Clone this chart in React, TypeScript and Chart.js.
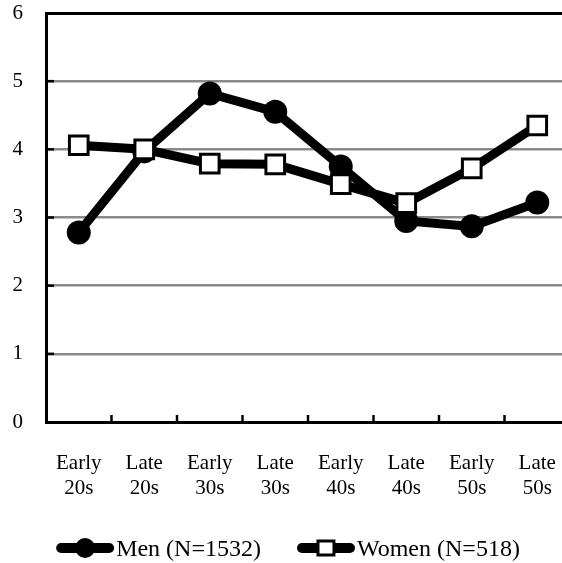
import React, { useEffect, useRef } from "react";
import { Chart, registerables } from "chart.js";

Chart.register(...registerables);

const categories: string[][] = [
  ["Early", "20s"],
  ["Late", "20s"],
  ["Early", "30s"],
  ["Late", "30s"],
  ["Early", "40s"],
  ["Late", "40s"],
  ["Early", "50s"],
  ["Late", "50s"],
];
const menValues = [2.78, 3.97, 4.82, 4.55, 3.75, 2.95, 2.87, 3.22];
const womenValues = [4.06, 4.0, 3.79, 3.78, 3.49, 3.21, 3.72, 4.35];
const seriesLabels = ["Men (N=1532)", "Women (N=518)"];
const yMin = 0;
const yMax = 6;
const yStep = 1;

const FONT = '"Liberation Serif", "Times New Roman", serif';

const innerTicksPlugin = {
  id: "innerTicks",
  beforeDatasetsDraw(chart: any) {
    const { ctx, chartArea, scales } = chart;
    const x = scales.x;
    const y = scales.y;
    ctx.save();
    ctx.strokeStyle = "#000";
    ctx.lineWidth = 2.5;
    for (let i = 1; i < categories.length; i++) {
      const px = (x.getPixelForValue(i - 1) + x.getPixelForValue(i)) / 2;
      ctx.beginPath();
      ctx.moveTo(px, chartArea.bottom);
      ctx.lineTo(px, chartArea.bottom - 7);
      ctx.stroke();
    }
    for (let v = yMin + yStep; v < yMax; v += yStep) {
      const py = y.getPixelForValue(v);
      ctx.beginPath();
      ctx.moveTo(chartArea.left, py);
      ctx.lineTo(chartArea.left + 8, py);
      ctx.stroke();
    }
    ctx.restore();
  },
};

const legendPlugin = {
  id: "customLegend",
  afterDraw(chart: any) {
    const ctx = chart.ctx;
    ctx.save();
    ctx.font = `24px ${FONT}`;
    const iconW = 58;
    const gapText = 2;
    const gapItems = 36;
    const widths = seriesLabels.map((t) => ctx.measureText(t).width);
    const total = iconW * 2 + gapText * 2 + gapItems + widths[0] + widths[1];
    let x = (chart.width - total) / 2 + 3;
    const y = 548;
    seriesLabels.forEach((label, i) => {
      ctx.strokeStyle = "#000";
      ctx.lineWidth = 10;
      ctx.lineCap = "round";
      ctx.beginPath();
      ctx.moveTo(x + 5, y);
      ctx.lineTo(x + iconW - 5, y);
      ctx.stroke();
      const cx = x + iconW / 2;
      if (i === 0) {
        ctx.fillStyle = "#000";
        ctx.beginPath();
        ctx.arc(cx, y, 10, 0, Math.PI * 2);
        ctx.fill();
      } else {
        ctx.fillStyle = "#fff";
        ctx.lineWidth = 3;
        ctx.lineCap = "butt";
        ctx.fillRect(cx - 8, y - 7, 16, 14);
        ctx.strokeRect(cx - 8, y - 7, 16, 14);
      }
      ctx.fillStyle = "#000";
      ctx.textAlign = "left";
      ctx.textBaseline = "alphabetic";
      ctx.fillText(label, x + iconW + gapText, 556);
      x += iconW + gapText + widths[i] + gapItems;
    });
    ctx.restore();
  },
};

function zeroPadding(s: any) {
  s.paddingLeft = 0;
  s.paddingRight = 0;
  s.paddingTop = 0;
  s.paddingBottom = 0;
}

export default function App() {
  const ref = useRef<HTMLCanvasElement | null>(null);

  useEffect(() => {
    if (!ref.current) return;
    const chart = new Chart(ref.current, {
      type: "line",
      data: {
        labels: categories as any,
        datasets: [
          {
            label: seriesLabels[0],
            data: menValues,
            borderColor: "#000",
            borderWidth: 9,
            pointStyle: "circle",
            pointRadius: 12,
            pointBackgroundColor: "#000",
            pointBorderColor: "#000",
            pointBorderWidth: 0,
            tension: 0,
            order: 1,
          },
          {
            label: seriesLabels[1],
            data: womenValues,
            borderColor: "#000",
            borderWidth: 9,
            pointStyle: "rect",
            pointRadius: 13.2,
            pointBackgroundColor: "#fff",
            pointBorderColor: "#000",
            pointBorderWidth: 3,
            tension: 0,
            order: 0,
          },
        ],
      },
      options: {
        animation: false,
        responsive: false,
        devicePixelRatio: 1,
        layout: { autoPadding: false, padding: { top: 13, left: 0, right: 0, bottom: 0 } },
        plugins: {
          legend: { display: false },
          tooltip: { enabled: false },
        },
        scales: {
          x: {
            type: "category",
            offset: true,
            grid: { display: false },
            border: { color: "#000", width: 3 },
            ticks: {
              color: "#000",
              font: { family: FONT, size: 21, lineHeight: 1.2 },
              padding: 21,
              maxRotation: 0,
              autoSkip: false,
            },
            afterFit(s: any) {
              s.height = 141;
              zeroPadding(s);
            },
          },
          y: {
            min: yMin,
            max: yMax,
            ticks: {
              stepSize: yStep,
              color: "#000",
              font: { family: FONT, size: 21 },
              padding: 23,
            },
            grid: {
              drawTicks: false,
              color: (c: any) => (c.tick && c.tick.value === yMax ? "#000" : "#8a8a8a"),
              lineWidth: (c: any) => (c.tick && c.tick.value === yMax ? 3 : 2.6),
            },
            border: { color: "#000", width: 3 },
            afterFit(s: any) {
              s.width = 46;
              zeroPadding(s);
            },
          },
        },
      },
      plugins: [innerTicksPlugin, legendPlugin],
    });
    return () => chart.destroy();
  }, []);

  return (
    <div
      style={{
        position: "absolute",
        left: 0,
        top: 0,
        width: 562,
        height: 563,
        overflow: "hidden",
        background: "#fff",
      }}
    >
      <canvas ref={ref} width={570} height={563} style={{ width: 570, height: 563 }} />
    </div>
  );
}
